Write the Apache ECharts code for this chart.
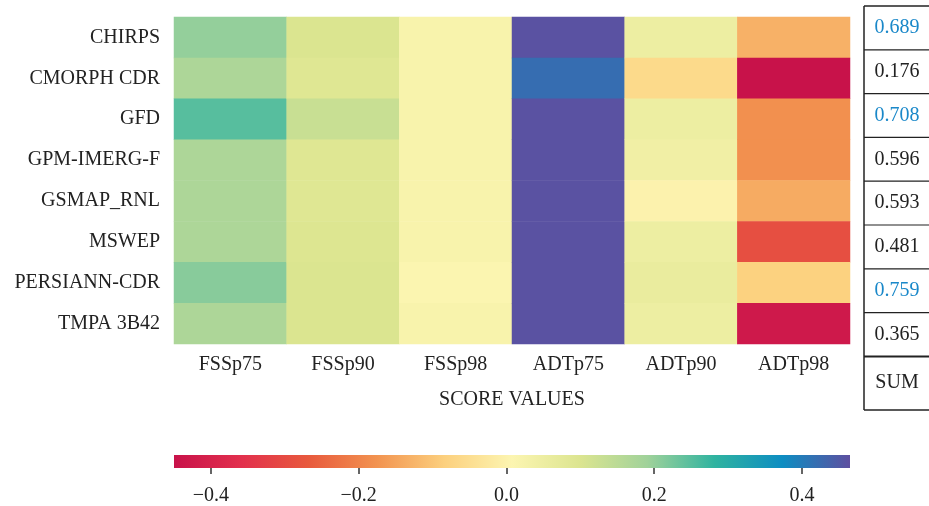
<!DOCTYPE html>
<html>
<head>
<meta charset="utf-8">
<script src="https://cdn.jsdelivr.net/npm/echarts@6/dist/echarts.min.js"></script>
<style>
  html, body { margin: 0; padding: 0; background: #fff; }
  #main { width: 929px; height: 506px; }
</style>
</head>
<body>
<div id="main"></div>
<script>
// 数据
var products = ['CHIRPS', 'CMORPH CDR', 'GFD', 'GPM-IMERG-F', 'GSMAP_RNL', 'MSWEP', 'PERSIANN-CDR', 'TMPA 3B42']
var scores = ['FSSp75', 'FSSp90', 'FSSp98', 'ADTp75', 'ADTp90', 'ADTp98']
var fssp75 = [0.20, 0.17, 0.25, 0.17, 0.17, 0.17, 0.21, 0.17]
var fssp90 = [0.10, 0.09, 0.13, 0.09, 0.09, 0.095, 0.10, 0.10]
var fssp98 = [0.02, 0.02, 0.02, 0.02, 0.02, 0.02, 0.01, 0.02]
var adtp75 = [0.46, 0.42, 0.46, 0.46, 0.46, 0.46, 0.46, 0.46]
var adtp90 = [0.05, -0.06, 0.05, 0.04, 0.0, 0.05, 0.06, 0.05]
var adtp98 = [-0.13, -0.45, -0.18, -0.18, -0.14, -0.29, -0.08, -0.43]
var sums = ['0.689', '0.176', '0.708', '0.596', '0.593', '0.481', '0.759', '0.365']
var bestSums = [0, 2, 6] // 蓝色标出的
var colorTicks = [-0.4, -0.2, 0, 0.2, 0.4]
var scaleMin = -0.45
var scaleMax = 0.465

// 颜色带 (Spectral)
var palette = ['#c8124a', '#e2304d', '#e85a3d', '#f29350', '#fcd07e', '#fcf5b1',
  '#dce590', '#a0d29a', '#2fb3a0', '#0d8dc2', '#5e4fa0']

var FONT = 'Liberation Serif'
var FS = 20
var columns = [fssp75, fssp90, fssp98, adtp75, adtp90, adtp98]
var heatData = []
for (var c = 0; c < columns.length; c++) {
  for (var r = 0; r < products.length; r++) {
    heatData.push([c, r, columns[c][r]])
  }
}

// 右侧的 SUM 表格
var tableLeft = 864, tableTop = 6, rowH = 43.8, tableBottom = 410
var graphics = []
graphics.push({ type: 'line', shape: { x1: tableLeft, y1: tableTop, x2: tableLeft, y2: tableBottom },
  style: { stroke: '#222', lineWidth: 1.5 } })
graphics.push({ type: 'line', shape: { x1: tableLeft, y1: tableTop, x2: 929, y2: tableTop },
  style: { stroke: '#222', lineWidth: 1.5 } })
for (var i = 0; i < sums.length; i++) {
  var yTop = tableTop + rowH * i
  graphics.push({ type: 'line', shape: { x1: tableLeft, y1: yTop + rowH, x2: 929, y2: yTop + rowH },
    style: { stroke: '#222', lineWidth: i == sums.length - 1 ? 2 : 1.2 } })
  graphics.push({ type: 'text', x: 897, y: yTop + rowH / 2,
    style: { text: sums[i], fill: bestSums.indexOf(i) >= 0 ? '#1a88c9' : '#222',
      font: FS + 'px "' + FONT + '"', align: 'center', verticalAlign: 'middle' } })
}
var sumTop = tableTop + rowH * sums.length
graphics.push({ type: 'line', shape: { x1: tableLeft, y1: tableBottom, x2: 929, y2: tableBottom },
  style: { stroke: '#222', lineWidth: 1.5 } })
graphics.push({ type: 'text', x: 897, y: (sumTop + tableBottom) / 2,
  style: { text: 'SUM', fill: '#222', font: FS + 'px "' + FONT + '"', align: 'center', verticalAlign: 'middle' } })

// 颜色条 (与 visualMap 同一套颜色)
var stops = palette.map(function (col, k) { return { offset: k / (palette.length - 1), color: col } })
graphics.push({ type: 'rect', shape: { x: 174, y: 455, width: 676, height: 13 },
  style: { fill: new echarts.graphic.LinearGradient(0, 0, 1, 0, stops) } })

var chart = echarts.init(document.getElementById('main'))
var option = {
  animation: false,
  backgroundColor: '#fff',
  textStyle: { fontFamily: FONT },
  grid: [
    { left: 174, top: 17, width: 676, height: 327 },
    { left: 174, top: 455, width: 676, height: 13 }
  ],
  xAxis: [{
    type: 'category',
    data: scores,
    gridIndex: 0,
    axisLine: { show: false },
    axisTick: { show: false },
    axisLabel: { color: '#222', fontSize: FS, fontFamily: FONT, margin: 11 },
    name: 'SCORE VALUES',
    nameLocation: 'middle',
    nameGap: 46,
    nameTextStyle: { color: '#222', fontSize: FS, fontFamily: FONT }
  }, {
    type: 'value',
    gridIndex: 1,
    min: scaleMin,
    max: scaleMax,
    offset: 3,
    axisLine: { show: false },
    splitLine: { show: false },
    axisTick: { show: true, customValues: colorTicks, length: 6, lineStyle: { color: '#333', width: 1.5 } },
    axisLabel: {
      customValues: colorTicks,
      color: '#222', fontSize: FS, fontFamily: FONT, margin: 15,
      formatter: function (v) { return v.toFixed(1).replace('-', '\u2212') }
    }
  }],
  yAxis: [{
    type: 'category',
    data: products,
    gridIndex: 0,
    inverse: true,
    axisLine: { show: false },
    axisTick: { show: false },
    axisLabel: { color: '#222', fontSize: FS, fontFamily: FONT, margin: 14 }
  }, {
    type: 'value',
    gridIndex: 1,
    show: false
  }],
  visualMap: {
    type: 'continuous',
    show: false,
    seriesIndex: 0,
    min: scaleMin,
    max: scaleMax,
    inRange: { color: palette }
  },
  series: [{
    type: 'heatmap',
    xAxisIndex: 0,
    yAxisIndex: 0,
    data: heatData,
    itemStyle: { borderWidth: 0 }
  }, {
    type: 'scatter',
    xAxisIndex: 1,
    yAxisIndex: 1,
    data: []
  }],
  graphic: graphics
}
chart.setOption(option)
</script>
</body>
</html>
